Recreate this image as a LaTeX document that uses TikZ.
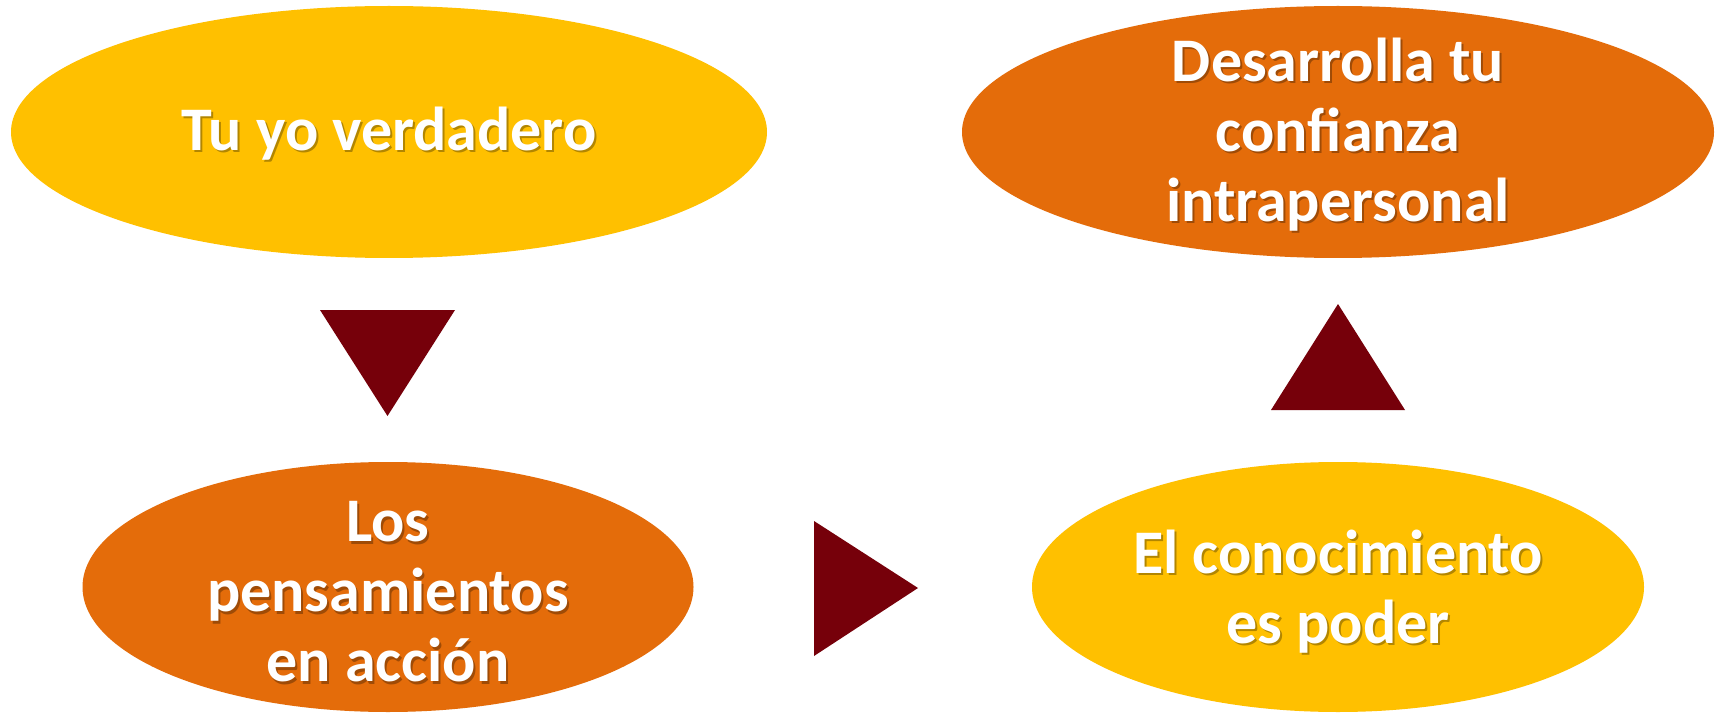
\documentclass[tikz,border=0pt]{standalone}
\usepackage{fontspec}
\setmainfont{Carlito}
\usetikzlibrary{shapes.geometric}
\definecolor{cyellow}{HTML}{FFC000}
\definecolor{corange}{HTML}{E46C0A}
\definecolor{cdark}{HTML}{76000A}
\tikzset{
  oval/.style={ellipse, inner sep=0pt, draw=none},
  lbl/.style={text=white, align=center, inner sep=0pt,
    font=\fontsize{62}{70}\selectfont\bfseries},
  shd/.style={lbl, text=black, text opacity=0.3, xshift=2pt, yshift=-2.5pt},
  arrowtri/.style={fill=cdark, draw=none}
}
\begin{document}
\begin{tikzpicture}[x=1pt, y=-1pt]
\useasboundingbox (0,0) rectangle (1719,714);
\fill[white] (0,0) rectangle (1719,714);
% ellipses
\node[oval, fill=cyellow, minimum width=756pt, minimum height=252pt] (e1) at (389,132) {};
\node[oval, fill=corange, minimum width=752pt, minimum height=252pt] (e2) at (1338,132) {};
\node[oval, fill=corange, minimum width=611pt, minimum height=250pt] (e3) at (388,587) {};
\node[oval, fill=cyellow, minimum width=612pt, minimum height=250pt] (e4) at (1338,587) {};
% triangles
\fill[arrowtri] (320,310) -- (455,310) -- (387.5,416) -- cycle;
\fill[arrowtri] (814,521) -- (918,588) -- (814,656) -- cycle;
\fill[arrowtri] (1271,410) -- (1405,410) -- (1338,304) -- cycle;
% texts
\node[shd] (t1s) at (389,133.5) {Tu yo verdadero};
\node[lbl] (t1) at (389,133.5) {Tu yo verdadero};
\node[shd] (t2s) at (1338,134.5) {Desarrolla tu\\confianza\\intrapersonal};
\node[lbl] (t2) at (1338,134.5) {Desarrolla tu\\confianza\\intrapersonal};
\node[shd] (t3s) at (388,592) {Los\\pensamientos\\en acción};
\node[lbl] (t3) at (388,592) {Los\\pensamientos\\en acción};
\node[shd] (t4s) at (1338,591.5) {El conocimiento\\es poder};
\node[lbl] (t4) at (1338,591.5) {El conocimiento\\es poder};
\end{tikzpicture}
\end{document}
